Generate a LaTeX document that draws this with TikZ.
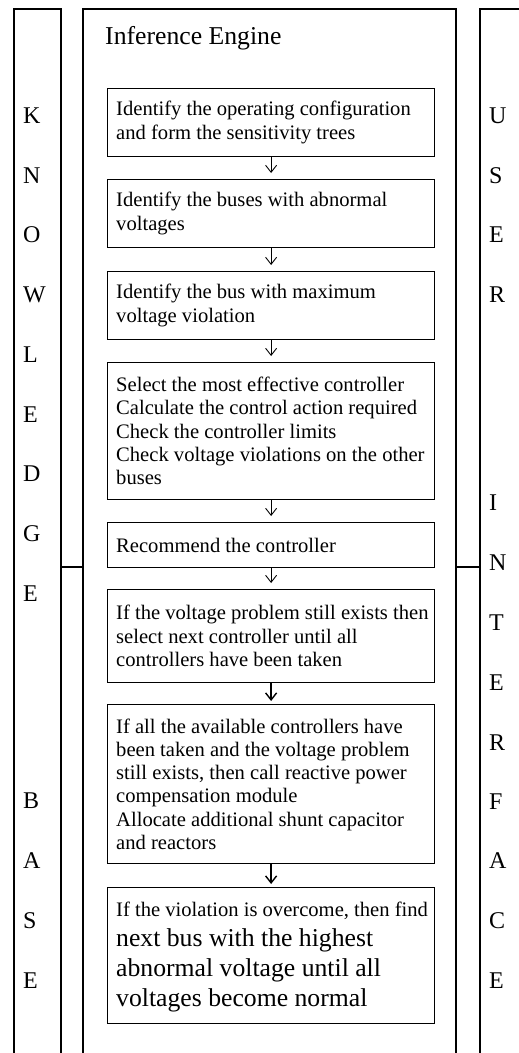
\documentclass[tikz,border=0pt]{standalone}
\usepackage{fontspec}
\setmainfont{Liberation Serif}
\usetikzlibrary{arrows.meta}
\begin{document}
\begin{tikzpicture}[x=1pt,y=-1pt,
  frame/.style={line width=1.2pt},
  stepbox/.style={draw, line width=1.2pt, inner sep=0pt, anchor=north west, minimum width=327pt},
  steptext/.style={anchor=west, inner sep=0pt, align=left,
    font=\fontsize{20.6pt}{23.3pt}\selectfont},
  letter/.style={anchor=base west, inner sep=0pt, font=\fontsize{24pt}{28pt}\selectfont},
  arr/.style={line width=0.9pt, -{Straight Barb[length=7pt,width=11pt]}, shorten >=6pt},
  arrb/.style={line width=1.4pt, -{Straight Barb[length=7pt,width=11pt]}, shorten >=3pt}
]
\useasboundingbox (0,0) rectangle (519,1053);

% column frames
\draw[frame] (14,1053) -- (14,9) -- (61,9) -- (61,1053);
\draw[frame] (83,1053) -- (83,9) -- (456,9) -- (456,1053);
\draw[frame] (530,9) -- (480,9) -- (480,1053);
\draw[frame] (61,567) -- (83,567);
\draw[frame] (456,567) -- (480,567);

\node[anchor=base west, inner sep=0pt, font=\fontsize{25.7pt}{30pt}\selectfont] (title) at (105,44) {Inference Engine};

% step boxes
\node[stepbox, minimum height=68pt] (b1) at (107,88) {};
\node[stepbox, minimum height=68pt] (b2) at (107,179) {};
\node[stepbox, minimum height=68pt] (b3) at (107,271) {};
\node[stepbox, minimum height=137pt] (b4) at (107,362) {};
\node[stepbox, minimum height=45pt] (b5) at (107,522) {};
\node[stepbox, minimum height=93pt] (b6) at (107,589) {};
\node[stepbox, minimum height=159pt] (b7) at (107,704) {};
\node[stepbox, minimum height=136pt] (b8) at (107,887) {};

% step texts
\node[steptext] (t1) at ([xshift=9pt]b1.west) {Identify the operating configuration\\and form the sensitivity trees};
\node[steptext] (t2) at ([xshift=9pt]b2.west) {Identify the buses with abnormal\\voltages};
\node[steptext] (t3) at ([xshift=9pt]b3.west) {Identify the bus with maximum\\voltage violation};
\node[steptext] (t4) at ([xshift=9pt]b4.west) {Select the most effective controller\\Calculate the control action required\\Check the controller limits\\Check voltage violations on the other\\buses};
\node[steptext] (t5) at ([xshift=9pt]b5.west) {Recommend the controller};
\node[steptext] (t6) at ([xshift=9pt]b6.west) {If the voltage problem still exists then\\select next controller until all\\controllers have been taken};
\node[steptext] (t7) at ([xshift=9pt]b7.west) {If all the available controllers have\\been taken and the voltage problem\\still exists, then call reactive power\\compensation module\\Allocate additional shunt capacitor\\and reactors};
\node[steptext, font=\fontsize{25.7pt}{30pt}\selectfont] (t8) at ([xshift=9pt,yshift=-1pt]b8.west) {{\fontsize{20.6pt}{23.3pt}\selectfont If the violation is overcome, then find}\\next bus with the highest\\abnormal voltage until all\\voltages become normal};

\draw[arr] (b1.south) -- (b2.north);
\draw[arr] (b2.south) -- (b3.north);
\draw[arr] (b3.south) -- (b4.north);
\draw[arr] (b4.south) -- (b5.north);
\draw[arr] (b5.south) -- (b6.north);
\draw[arrb] (b6.south) -- (b7.north);
\draw[arrb] (b7.south) -- (b8.north);

% knowledge base letters
\foreach \t/\y [count=\i] in {K/123,N/183,O/242.5,W/302,L/362,E/422,D/481.5,G/541,E/601,B/808,A/868,S/928,E/988}
  \node[letter] (kb\i) at (23,\y) {\t};
% user interface letters
\foreach \t/\y [count=\i] in {U/123,S/183,E/242.5,R/302,I/510,N/570,T/630,E/690,R/750,F/809,A/868,C/928,E/988}
  \node[letter] (ui\i) at (489,\y) {\t};
\end{tikzpicture}
\end{document}
